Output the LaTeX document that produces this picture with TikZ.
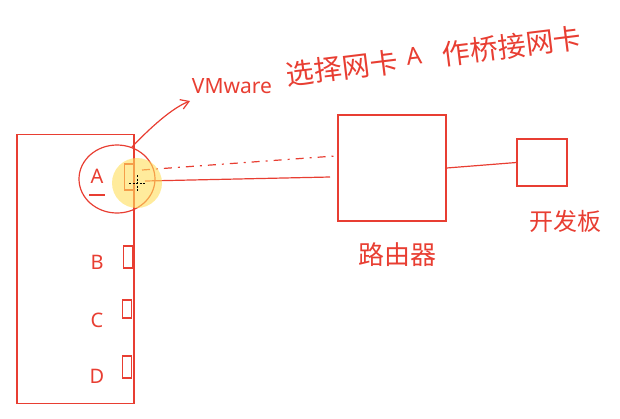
\documentclass[tikz,border=0pt]{standalone}
\usepackage{fontspec}
\setmainfont{Noto Sans}
\newfontfamily\cjk{Noto Sans CJK SC}
\usetikzlibrary{shapes.geometric,arrows.meta}
\definecolor{pen}{RGB}{232,62,50}
\definecolor{hilite}{RGB}{255,222,90}
\tikzset{
  stroke/.style={draw=pen, line width=1.2pt},
  boxnode/.style={stroke, rectangle, inner sep=0pt},
  portbox/.style={stroke, rectangle, inner sep=0pt, minimum width=9pt, minimum height=22pt},
  hand/.style={text=pen, font=\cjk\fontsize{26}{30}\selectfont, inner sep=0pt},
  notetext/.style={text=pen, font=\cjk\fontsize{28}{32}\selectfont, inner sep=0pt, rotate=7},
  letter/.style={text=pen, font=\fontsize{20}{22}\selectfont, inner sep=0pt},
}
\begin{document}
\begin{tikzpicture}[x=1pt,y=-1pt]
\useasboundingbox (0,0) rectangle (620,418);
% host machine
\node[boxnode, minimum width=117pt, minimum height=269pt] (host) at (75.5,269) {};
% ports
\node[portbox, minimum height=26pt] (portA) at (129,177) {};
\node[portbox] (portB) at (128,257) {};
\node[portbox, minimum height=18pt] (portC) at (127,309) {};
\node[portbox, minimum height=22pt] (portD) at (127,367) {};
% labels
\node[letter] (lA) at (97,176) {A};
\draw[stroke] (89,195) -- (105,195);
\node[letter] (lB) at (97,262) {B};
\node[letter] (lC) at (97,320) {C};
\node[letter] (lD) at (97,376) {D};
% selection ellipse
\node[stroke, ellipse, minimum width=76pt, minimum height=68pt, inner sep=0pt] (sel) at (117,179) {};
% annotation
\coordinate (tip) at (190,101);
\draw[stroke, -{Straight Barb[length=8pt,width=10pt]}] (sel.65) .. controls (150,128) and (172,108) .. (tip);
\node[text=pen, inner sep=0pt, font=\fontsize{21}{24}\selectfont] (note1) at (232,86) {VMware};
\node[notetext] (note2) at (342,68) {选择网卡};
\node[notetext, font=\fontsize{24}{26}\selectfont] (note3) at (414,56) {A};
\node[notetext] (note4) at (512,46) {作桥接网卡};
% router and board
\node[boxnode, minimum width=108pt, minimum height=106pt] (router) at (392,168) {};
\node[hand] (rlabel) at (397,255) {路由器};
\node[boxnode, minimum width=50pt, minimum height=47pt] (board) at (542,162.5) {};
\node[hand, font=\cjk\fontsize{24}{28}\selectfont] (blabel) at (565,221) {开发板};
% connections
\coordinate (rin) at (330,177);
\coordinate (aout) at (145,181);
\coordinate (dstart) at (142,170);
\coordinate (dend) at (335,156);
\draw[stroke] (aout) -- (rin);
\draw[stroke, dash pattern=on 8pt off 6pt on 2pt off 6pt] (dstart) -- (dend);
\draw[stroke] (router.east) -- (board.west);
% highlight of the pointer
\fill[hilite, opacity=0.6] (137,183) circle (25);
\draw[black, line width=0.6pt, dash pattern=on 2pt off 1.5pt] (129,183) -- (145,183) (137,175) -- (137,191);
\end{tikzpicture}
\end{document}
